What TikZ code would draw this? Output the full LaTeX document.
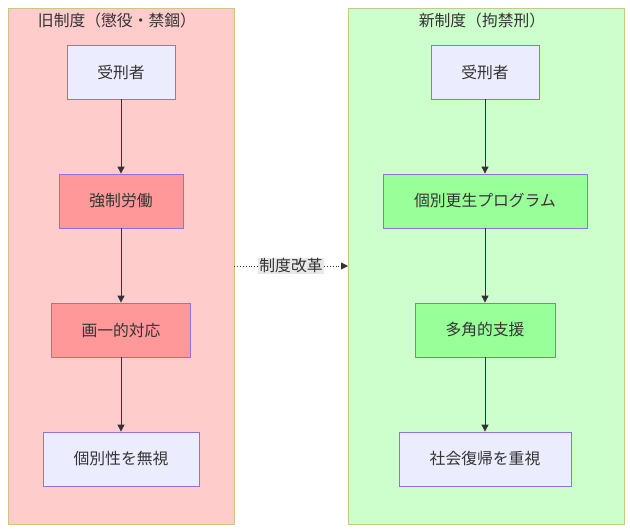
\documentclass[tikz,border=0pt]{standalone}
\usepackage{fontspec}
\setmainfont{Noto Sans CJK JP}
\usetikzlibrary{arrows.meta}
\definecolor{oldbg}{HTML}{FFCCCC}
\definecolor{newbg}{HTML}{CCFFCC}
\definecolor{clborder}{HTML}{C8C880}
\definecolor{nodebg}{HTML}{ECECFF}
\definecolor{nodeborder}{HTML}{9370DB}
\definecolor{redfill}{HTML}{FF9999}
\definecolor{greenfill}{HTML}{99FF99}
\definecolor{edgecol}{HTML}{333333}
\definecolor{txt}{HTML}{333333}
\definecolor{lblbg}{HTML}{E8E8E8}
\tikzset{
  cluster/.style={draw=clborder, line width=0.8pt},
  box/.style={draw=nodeborder, line width=0.8pt, fill=nodebg, minimum height=54pt, inner xsep=0pt, font=\fontsize{15.8pt}{18pt}\selectfont, text=txt},
  redbox/.style={box, fill=redfill},
  greenbox/.style={box, fill=greenfill},
  title/.style={font=\fontsize{15.8pt}{18pt}\selectfont, text=txt},
  flow/.style={draw=edgecol, line width=0.9pt, -{Triangle[length=7pt,width=7pt]}},
  reform/.style={draw=edgecol, line width=0.9pt, dotted, -{Triangle[length=7pt,width=7pt]}},
}
\begin{document}
\begin{tikzpicture}[x=1pt,y=-1pt]
\useasboundingbox (0,0) rectangle (630,532);
\fill[white] (0,0) rectangle (630,532);
\draw[cluster, fill=oldbg] (8,8) rectangle (234,524);
\draw[cluster, fill=newbg] (348,8) rectangle (624,524);
\node[title] (t1) at (117,20) {旧制度（懲役・禁錮）};
\node[title] (t2) at (482,20) {新制度（拘禁刑）};
\node[box, minimum width=108pt] (a1) at (121,72) {受刑者};
\node[redbox, minimum width=124pt] (a2) at (121,201) {強制労働};
\node[redbox, minimum width=139pt] (a3) at (121,330) {画一的対応};
\node[box, minimum width=156pt] (a4) at (121,459) {個別性を無視};
\node[box, minimum width=108pt] (b1) at (485,72) {受刑者};
\node[greenbox, minimum width=204pt] (b2) at (485,201) {個別更生プログラム};
\node[greenbox, minimum width=140pt] (b3) at (485,330) {多角的支援};
\node[box, minimum width=172pt] (b4) at (485,459) {社会復帰を重視};
\draw[flow] (a1) -- (a2);
\draw[flow] (a2) -- (a3);
\draw[flow] (a3) -- (a4);
\draw[flow] (b1) -- (b2);
\draw[flow] (b2) -- (b3);
\draw[flow] (b3) -- (b4);
\coordinate (l) at (234,266);
\coordinate (r) at (348,266);
\draw[reform] (l) -- (r) node[midway, fill=lblbg, inner sep=1pt, font=\fontsize{15.8pt}{18pt}\selectfont, text=txt] (lbl) {制度改革};
\end{tikzpicture}
\end{document}
